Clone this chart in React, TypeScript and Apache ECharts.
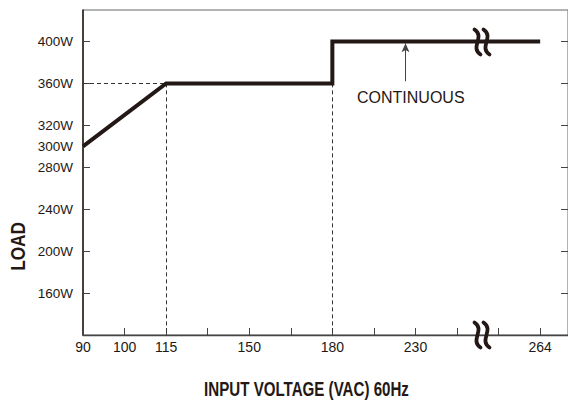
import React, { useEffect, useRef } from "react";
import * as echarts from "echarts";

// Evenly spaced tick positions on the horizontal axis (only some are labelled)
const xTickLabels = ["90", "100", "115", "", "150", "", "180", "", "230", "", "", "264"];
// Load curve
const voltages = ["90", "115", "180", "180", "264"];
const loads = [300, 360, 360, 400, 400];
// Y ticks and labels
const yTickValues = [160, 200, 240, 280, 320, 360, 400];
const yLabelValues = [160, 200, 240, 280, 300, 320, 360, 400];

const INK = "#231815";

export default function App() {
  const ref = useRef<HTMLDivElement>(null);
  useEffect(() => {
    if (!ref.current) return;
    const chart = echarts.init(ref.current, null, { renderer: "svg" });
    const idx = (v: string) => xTickLabels.indexOf(v);
    const lineData = voltages.map((v, i) => [idx(v), loads[i]]);
    const xTickIdx = xTickLabels.map((_, i) => i);
    const xLabelIdx = xTickLabels.map((l, i) => (l ? i : -1)).filter((i) => i >= 0);
    const yMin = 120;
    const yMax = 430;
    const i115 = idx("115");
    const i180 = idx("180");

    const brk = (cx: number, cy: number) =>
      [-4.5, 4.5].map((dx) => ({
        type: "bezierCurve",
        shape: {
          x1: cx + dx - 3,
          y1: cy - 12.5,
          cpx1: cx + dx + 8,
          cpy1: cy - 5,
          cpx2: cx + dx - 8,
          cpy2: cy + 5,
          x2: cx + dx + 3,
          y2: cy + 12.5,
        },
        style: { stroke: INK, lineWidth: 3.8, fill: "none", lineCap: "round" },
        z: 100,
      }));

    chart.setOption({
      animation: false,
      grid: {
        left: 83,
        top: 10,
        width: 487,
        height: 325,
        show: true,
        borderColor: "#666",
        borderWidth: 1,
      },
      xAxis: {
        type: "value",
        min: 0,
        max: 11.67,
        axisLine: { show: true, lineStyle: { color: "#444", width: 1.3 } },
        axisTick: {
          show: true,
          inside: true,
          length: 7,
          customValues: xTickIdx,
          lineStyle: { color: "#444", width: 1 },
        },
        axisLabel: {
          customValues: xLabelIdx,
          formatter: (v: number) => xTickLabels[Math.round(v)] || "",
          margin: 5,
          color: INK,
          fontSize: 14,
          fontFamily: "Liberation Sans, Arial, sans-serif",
        },
        splitLine: { show: false },
      },
      yAxis: [
        {
          type: "value",
          min: yMin,
          max: yMax,
          axisLine: { show: true, lineStyle: { color: INK, width: 1.5 } },
          axisTick: {
            show: true,
            inside: true,
            length: 7,
            customValues: yTickValues,
            lineStyle: { color: "#444", width: 1 },
          },
          axisLabel: {
            customValues: yLabelValues,
            formatter: (v: number) => v + "W",
            margin: 10,
            color: INK,
            fontSize: 13.5,
            fontFamily: "Liberation Sans, Arial, sans-serif",
          },
          splitLine: { show: false },
        },
        {
          type: "value",
          position: "right",
          min: yMin,
          max: yMax,
          axisLine: { show: true, lineStyle: { color: "#444", width: 1 } },
          axisTick: {
            show: true,
            inside: true,
            length: 7,
            customValues: yTickValues,
            lineStyle: { color: "#444", width: 1 },
          },
          axisLabel: { show: false },
          splitLine: { show: false },
        },
      ],
      series: [
        {
          type: "line",
          data: lineData,
          symbol: "none",
          lineStyle: { color: INK, width: 4, join: "miter" },
          z: 10,
          markLine: {
            silent: true,
            symbol: "none",
            label: { show: false },
            lineStyle: { color: "#333", width: 1, type: [4, 3] },
            z: 5,
            data: [
              [{ coord: [0, 360] }, { coord: [i115, 360] }],
              [{ coord: [i115, 360] }, { coord: [i115, yMin] }],
              [{ coord: [i180, 360] }, { coord: [i180, yMin] }],
            ],
          },
        },
        {
          type: "line",
          data: [],
          markLine: {
            silent: true,
            symbol: ["none", "arrow"],
            symbolSize: [6, 9],
            label: { show: false },
            lineStyle: { color: "#444", width: 1, type: "solid" },
            z: 12,
            data: [[{ coord: [7.76, 362] }, { coord: [7.76, 398.2] }]],
          },
        },
      ],
      graphic: [
        {
          type: "text",
          x: 357,
          y: 97,
          style: {
            text: "CONTINUOUS",
            fill: INK,
            font: "16px 'Liberation Sans', Arial, sans-serif",
            verticalAlign: "middle",
            align: "left",
          },
        },
        {
          type: "text",
          x: 306.5,
          y: 389,
          scaleX: 0.72,
          style: {
            text: "INPUT VOLTAGE (VAC) 60Hz",
            fill: INK,
            font: "bold 21px 'Liberation Sans', Arial, sans-serif",
            verticalAlign: "middle",
            align: "center",
          },
        },
        {
          type: "text",
          x: 18,
          y: 246.5,
          rotation: Math.PI / 2,
          scaleX: 0.82,
          style: {
            text: "LOAD",
            fill: INK,
            font: "bold 21px 'Liberation Sans', Arial, sans-serif",
            verticalAlign: "middle",
            align: "center",
          },
        },
        ...brk(482, 42),
        ...brk(482, 335),
      ],
    });
    return () => chart.dispose();
  }, []);
  return (
    <div
      ref={ref}
      style={{ position: "absolute", left: 0, top: 0, width: 568, height: 405, background: "#fff" }}
    />
  );
}
